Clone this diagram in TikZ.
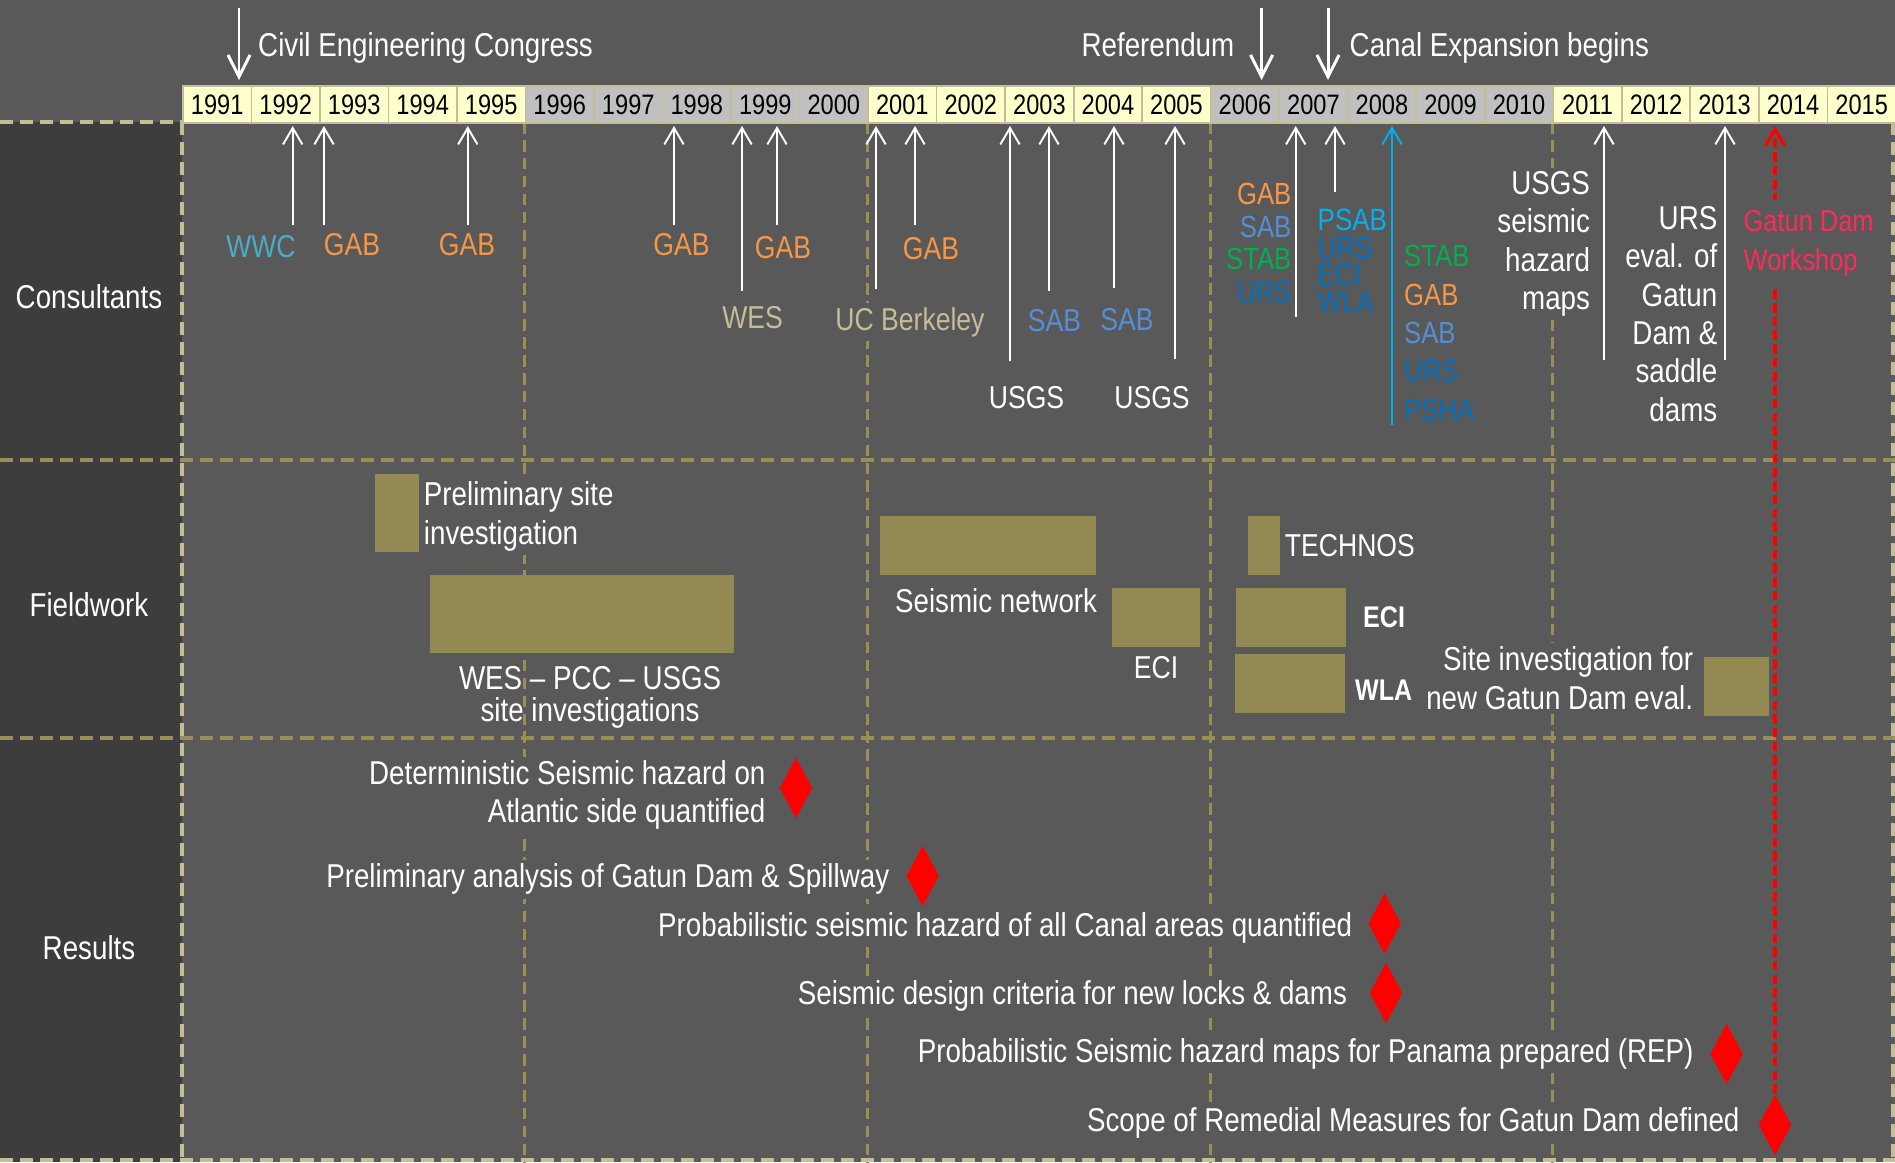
\documentclass[tikz,border=0pt]{standalone}
\usepackage{fontspec}
\setmainfont{Liberation Sans}[FakeStretch=0.84]
\usetikzlibrary{positioning,shapes.geometric,arrows.meta}

\definecolor{bgcol}{HTML}{595959}
\definecolor{sidecol}{HTML}{3D3D3D}
\definecolor{gridcol}{HTML}{988E58}
\definecolor{framecol}{HTML}{C4BD97}
\definecolor{yrlight}{HTML}{FFFFCC}
\definecolor{yrgray}{HTML}{C0C0C0}
\definecolor{boxcol}{HTML}{938953}
\definecolor{gabcol}{HTML}{F79646}
\definecolor{sabcol}{HTML}{558ED5}
\definecolor{stabcol}{HTML}{00B050}
\definecolor{urscol}{HTML}{0070C0}
\definecolor{psabcol}{HTML}{00B0F0}
\definecolor{wwccol}{HTML}{4BACC6}
\definecolor{tancol}{HTML}{C4BD97}
\definecolor{shopcol}{HTML}{FF2A5A}

\tikzstyle{year} = [draw=framecol, line width=0.5pt, minimum width=6.852mm, minimum height=3.7mm, inner sep=0pt, font=\fontsize{8}{9}\selectfont, text=black]
\tikzstyle{grid line} = [draw=gridcol, line width=0.85pt, dash pattern=on 3.3pt off 1.8pt]
\tikzstyle{grid row} = [grid line, line width=1.05pt, dash pattern=on 3.7pt off 2pt]
\tikzstyle{frame line} = [grid row, draw=framecol]
\tikzstyle{event arrow} = [draw=white, line width=0.85pt, -{Straight Barb[length=6.2pt,width=6.3pt]}]
\tikzstyle{cons arrow} = [draw=white, line width=0.55pt, -{Straight Barb[length=4.7pt,width=5.5pt]}]
\tikzstyle{red dash} = [draw=red, line width=0.95pt, dash pattern=on 2.7pt off 1.2pt, -{Straight Barb[length=4.7pt,width=5.5pt]}]
\tikzstyle{txt} = [text=white, inner sep=1pt, font=\fontsize{9.4}{10.9}\selectfont]
\tikzstyle{oneline} = [text height=7pt, text depth=2pt]
\tikzstyle{masked} = [fill=bgcol]
\tikzstyle{fwbox} = [fill=boxcol, inner sep=0pt]
\tikzstyle{milestone} = [diamond, fill=red, inner sep=0pt, minimum width=3.3mm, minimum height=6.1mm]

\begin{document}
\begin{tikzpicture}[x=0.1mm, y=-0.1mm]
    %% background, side column and dashed grid
    \useasboundingbox (0,0) rectangle (1895,1162);
    \fill[bgcol] (0,0) rectangle (1895,1162);
    \fill[sidecol] (0,122) rectangle (182,1162);
    \draw[frame line] (0,122) -- (182,122);
    \foreach \y in {460, 738}
      \draw[grid row] (0,\y) -- (1895,\y);
    \foreach \x in {524.5, 867.5, 1210, 1552.6}
      \draw[grid line] (\x,122) -- (\x,1162);
    \draw[frame line] (0,1160) -- (1895,1160);
    \draw[frame line] (182,122) -- (182,1162);
    \draw[frame line] (1893,122) -- (1893,1162);

    %% year bar
    \foreach \yr [count=\i from 0] in {1991,...,2015}
    {
      \pgfmathtruncatemacro{\grp}{\i/5}
      \ifodd\grp \def\yrfill{yrgray}\else\def\yrfill{yrlight}\fi
      \node[year, fill=\yrfill, anchor=north west] (y\yr) at (182+68.52*\i,85) {\yr};
    }
    \coordinate (barN) at (0,80);
    \coordinate (barTip) at (0,126);

    %% events above the years
    \foreach \name/\x in {civ/239, refer/1261.6, canal/1328}
    {
      \coordinate (e\name) at (\x,8);
      \draw[event arrow] (e\name) -- (e\name |- barN);
    }
    \node[txt, oneline, anchor=west] (civ) at (254,48) {Civil Engineering Congress};
    \node[txt, oneline, anchor=east] (refer) at (1238.5,48) {Referendum};
    \node[txt, oneline, anchor=west] (canal) at (1345.5,48) {Canal Expansion begins};

    %% row titles
    \foreach \name/\y/\txt in {consultants/300/Consultants, fieldwork/608/Fieldwork, results/951/Results}
      \node[txt, oneline] (\name) at (89,\y) {\txt};

    %% fieldwork
    \foreach \name/\x/\y/\w/\h in {
      prelim/397/513/4.4/7.8, wes/582/614/30.4/7.8, seisnet/988/545.5/21.6/5.9,
      eci05/1156/617.5/8.8/5.9, technos/1264/545.5/3.2/5.9, eci07/1291/617.5/11/5.9,
      wla/1290/683.5/11/5.9, gatun/1736.5/686.5/6.5/5.9}
      \node[fwbox, minimum width=\w mm, minimum height=\h mm] (\name) at (\x,\y) {};
    \node[txt, masked, align=left, right=0pt of prelim, yshift=-1pt] (prelimtxt) {Preliminary site\\investigation};
    \node[txt, align=center, font=\fontsize{9.4}{9}\selectfont, below=2.4pt of wes, xshift=2.3pt] (westxt) {WES – PCC – USGS\\site investigations};
    \node[txt, below=2.4pt of seisnet, xshift=2.3pt] (seisnettxt) {Seismic network};
    \node[txt, font=\fontsize{9}{10}\selectfont, below=1.3pt of eci05] (eci05txt) {ECI};
    \node[txt, font=\fontsize{9}{10}\selectfont, right=0pt of technos] (technostxt) {TECHNOS};
    \node[txt, font=\fontsize{8.5}{10}\selectfont\bfseries, right=3.5pt of eci07] (eci07txt) {ECI};
    \node[txt, font=\fontsize{8.5}{10}\selectfont\bfseries, right=1.5pt of wla, yshift=-1.8pt] (wlatxt) {WLA};
    \node[txt, masked, align=right, left=1.7pt of gatun, yshift=2.4pt] (gatuntxt) {Site investigation for\\new Gatun Dam eval.};

    %% results
    \foreach \name/\x/\y in {d1/796/788, d2/922.6/876, d3/1384.6/923.5, d4/1386/993, d5/1726.6/1054, d6/1775/1125}
      \node[milestone] (\name) at (\x,\y) {};
    \node[txt, masked, align=right, left=2.6pt of d1, yshift=-2pt] (r1) {Deterministic Seismic hazard on\\Atlantic side quantified};
    \foreach \name/\dia/\gap/\dy/\txt in {
      r2/d2/3.4/-0.9/Preliminary analysis of Gatun Dam \& Spillway,
      r3/d3/3.1/-1.3/Probabilistic seismic hazard of all Canal areas quantified,
      r4/d4/5/-0.9/Seismic design criteria for new locks \& dams,
      r5/d5/3.3/0/Probabilistic Seismic hazard maps for Panama prepared (REP),
      r6/d6/4/0.6/Scope of Remedial Measures for Gatun Dam defined}
      \node[txt, oneline, masked, left=\gap pt of \dia, yshift=\dy pt] (\name) {\txt};

    %% workshop line, hidden behind its label
    \draw[red dash] (d6.north) -- (d6.north |- barTip);

    %% consultants
    \foreach \name/\x/\y/\col/\txt in {
      wwc/261/249/wwccol/WWC, gab93/352/247/gabcol/GAB, gab95/467/247/gabcol/GAB,
      gab98/681.5/247/gabcol/GAB, wes/752.6/320/tancol/WES, gab99/783/250/gabcol/GAB,
      ucb/910/322/tancol/UC Berkeley, gab01/931/251/gabcol/GAB, usgs02/1026.5/400/white/USGS,
      sab03/1054.5/323/sabcol/SAB, sab04/1127/322/sabcol/SAB, usgs05/1152/400/white/USGS}
      \node[txt, oneline, masked, text=\col, font=\fontsize{9}{10}\selectfont] (\name) at (\x,\y) {\txt};
    \node[txt, masked, align=right, anchor=east, font=\fontsize{8.7}{9.25}\selectfont] (stackL) at (1295.5,243)
      {\textcolor{gabcol}{GAB}\\\textcolor{sabcol}{SAB}\\\textcolor{stabcol}{STAB}\\\textcolor{urscol}{URS}};
    \node[txt, masked, align=left, anchor=west, font=\fontsize{8.8}{7.75}\selectfont] (stackM) at (1313.5,261)
      {\textcolor{psabcol}{PSAB}\\\textcolor{urscol}{URS}\\\textcolor{urscol}{ECI}\\\textcolor{urscol}{WLA}};
    \node[txt, masked, align=left, anchor=west, font=\fontsize{8.7}{10.9}\selectfont] (stackR) at (1400,333)
      {\textcolor{stabcol}{STAB}\\\textcolor{gabcol}{GAB}\\\textcolor{sabcol}{SAB}\\\textcolor{urscol}{URS}\\\textcolor{urscol}{PSHA}};
    \node[txt, masked, align=right, anchor=east] (usgsmaps) at (1594.2,244) {USGS\\seismic\\hazard\\maps};
    \node[txt, masked, align=right, anchor=east] (urseval) at (1721.5,314) {URS\\eval. of\\Gatun\\Dam \&\\saddle\\dams};
    \node[txt, masked, align=left, anchor=west, text=shopcol, inner ysep=3pt, font=\fontsize{8.6}{10.9}\selectfont] (shop) at (1739.5,243.5) {Gatun Dam\\Workshop};

    %% consultant arrows up to the years
    \foreach \name/\x/\y/\col in {
      wwc/292.7/225/white, gab93/324/225/white, gab95/467.8/225/white, gab98/674/225/white,
      wes/742/290.7/white, gab99/777/225/white, ucb/876/289/white, gab01/915/225/white,
      usgs02/1010/361/white, sab03/1049/290.7/white, sab04/1114/288/white, usgs05/1175/359/white,
      stackL/1295.7/316.7/white, stackM/1335/191.7/white, stackR/1392/425/psabcol,
      usgsmaps/1604/360/white, urseval/1725/360/white}
    {
      \coordinate (t\name) at (\x,\y);
      \draw[cons arrow, draw=\col] (t\name) -- (t\name |- barTip);
    }
\end{tikzpicture}
\end{document}
